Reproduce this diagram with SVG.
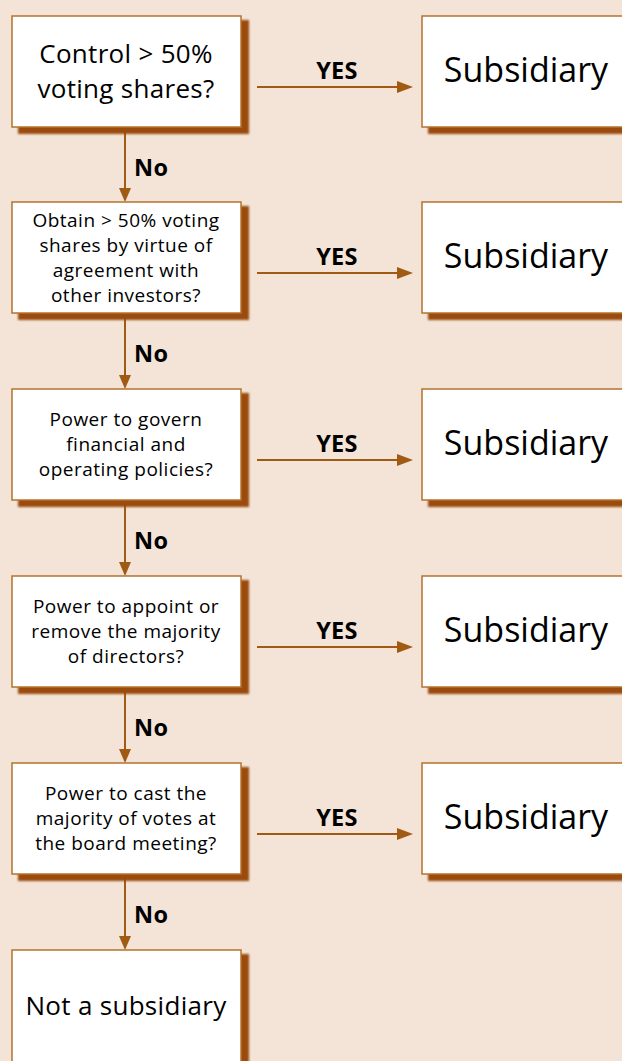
<svg xmlns="http://www.w3.org/2000/svg" width="622" height="1061" viewBox="0 0 622 1061">
<defs>
<filter id="blur" x="-5%" y="-5%" width="110%" height="110%"><feGaussianBlur stdDeviation="0.9"/></filter>
<style>
.bg{fill:#f3e4d7}
.sh{fill:#9a4c10;filter:url(#blur)}
.bx{fill:#ffffff;stroke:#b5732c;stroke-width:1.5}
.t{font-family:"Open Sans","Noto Sans",sans-serif;fill:#000;text-anchor:middle}
.q{font-size:19px;letter-spacing:0.5px}
.big{font-size:26px;letter-spacing:0.3px}
.sub{font-size:34px}
.lb{font-family:"Open Sans","Noto Sans",sans-serif;font-weight:bold;font-size:23.5px;letter-spacing:0.3px;fill:#000}
.ln{stroke:#a05a14;stroke-width:2;fill:none}
.ah{fill:#a05a14}
</style>
</defs>
<rect class="bg" x="0" y="0" width="622" height="1061"/>

<g id="connectors">
  <line class="ln" x1="125" y1="127" x2="125" y2="190"/>
  <polygon class="ah" points="119,188 131,188 125,202"/>
  <line class="ln" x1="125" y1="313" x2="125" y2="377"/>
  <polygon class="ah" points="119,375 131,375 125,389"/>
  <line class="ln" x1="125" y1="500" x2="125" y2="564"/>
  <polygon class="ah" points="119,562 131,562 125,576"/>
  <line class="ln" x1="125" y1="687" x2="125" y2="751"/>
  <polygon class="ah" points="119,749 131,749 125,763"/>
  <line class="ln" x1="125" y1="874" x2="125" y2="938"/>
  <polygon class="ah" points="119,936 131,936 125,950"/>

  <line class="ln" x1="257" y1="87" x2="400" y2="87"/>
  <polygon class="ah" points="397,81 413,87 397,93"/>
  <line class="ln" x1="257" y1="273" x2="400" y2="273"/>
  <polygon class="ah" points="397,267 413,273 397,279"/>
  <line class="ln" x1="257" y1="460" x2="400" y2="460"/>
  <polygon class="ah" points="397,454 413,460 397,466"/>
  <line class="ln" x1="257" y1="647" x2="400" y2="647"/>
  <polygon class="ah" points="397,641 413,647 397,653"/>
  <line class="ln" x1="257" y1="834" x2="400" y2="834"/>
  <polygon class="ah" points="397,828 413,834 397,840"/>

  <text class="lb" x="134" y="176">No</text>
  <text class="lb" x="134" y="362">No</text>
  <text class="lb" x="134" y="549">No</text>
  <text class="lb" x="134" y="736">No</text>
  <text class="lb" x="134" y="923">No</text>
  <text class="lb" x="337" y="79" text-anchor="middle">YES</text>
  <text class="lb" x="337" y="265" text-anchor="middle">YES</text>
  <text class="lb" x="337" y="452" text-anchor="middle">YES</text>
  <text class="lb" x="337" y="639" text-anchor="middle">YES</text>
  <text class="lb" x="337" y="826" text-anchor="middle">YES</text>
</g>

<g id="q1">
  <rect class="sh" x="18" y="20" width="231" height="114"/>
  <rect class="bx" x="12" y="16" width="229" height="111"/>
  <text class="t big" x="126" y="63">Control &gt; 50%</text>
  <text class="t big" x="126" y="98">voting shares?</text>
</g>
<g id="q2">
  <rect class="sh" x="18" y="206" width="231" height="114"/>
  <rect class="bx" x="12" y="202" width="229" height="111"/>
  <text class="t q" x="126" y="227">Obtain &gt; 50% voting</text>
  <text class="t q" x="126" y="252">shares by virtue of</text>
  <text class="t q" x="126" y="277">agreement with</text>
  <text class="t q" x="126" y="302">other investors?</text>
</g>
<g id="q3">
  <rect class="sh" x="18" y="393" width="231" height="114"/>
  <rect class="bx" x="12" y="389" width="229" height="111"/>
  <text class="t q" x="126" y="426">Power to govern</text>
  <text class="t q" x="126" y="451">financial and</text>
  <text class="t q" x="126" y="476">operating policies?</text>
</g>
<g id="q4">
  <rect class="sh" x="18" y="580" width="231" height="114"/>
  <rect class="bx" x="12" y="576" width="229" height="111"/>
  <text class="t q" x="126" y="613">Power to appoint or</text>
  <text class="t q" x="126" y="638">remove the majority</text>
  <text class="t q" x="126" y="663">of directors?</text>
</g>
<g id="q5">
  <rect class="sh" x="18" y="767" width="231" height="114"/>
  <rect class="bx" x="12" y="763" width="229" height="111"/>
  <text class="t q" x="126" y="800">Power to cast the</text>
  <text class="t q" x="126" y="825">majority of votes at</text>
  <text class="t q" x="126" y="850">the board meeting?</text>
</g>
<g id="not-subsidiary">
  <rect class="sh" x="18" y="954" width="231" height="120"/>
  <rect class="bx" x="12" y="950" width="229" height="120"/>
  <text class="t big" x="126" y="1015">Not a subsidiary</text>
</g>

<g id="s1">
  <rect class="sh" x="428" y="20" width="210" height="114"/>
  <rect class="bx" x="422" y="16" width="210" height="111"/>
  <text class="t sub" x="526" y="82">Subsidiary</text>
</g>
<g id="s2">
  <rect class="sh" x="428" y="206" width="210" height="114"/>
  <rect class="bx" x="422" y="202" width="210" height="111"/>
  <text class="t sub" x="526" y="268">Subsidiary</text>
</g>
<g id="s3">
  <rect class="sh" x="428" y="393" width="210" height="114"/>
  <rect class="bx" x="422" y="389" width="210" height="111"/>
  <text class="t sub" x="526" y="455">Subsidiary</text>
</g>
<g id="s4">
  <rect class="sh" x="428" y="580" width="210" height="114"/>
  <rect class="bx" x="422" y="576" width="210" height="111"/>
  <text class="t sub" x="526" y="642">Subsidiary</text>
</g>
<g id="s5">
  <rect class="sh" x="428" y="767" width="210" height="114"/>
  <rect class="bx" x="422" y="763" width="210" height="111"/>
  <text class="t sub" x="526" y="829">Subsidiary</text>
</g>
</svg>
